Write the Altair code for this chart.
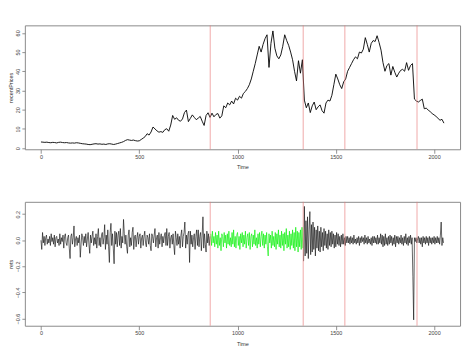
import altair as alt
import pandas as pd

# ---- data ----
price_step = 10
prices = [
    3.2, 3.1, 3.0, 3.1, 2.9, 2.8, 3.0, 2.9, 2.7, 3.0,
    3.1, 2.9, 2.8, 2.9, 2.7, 2.6, 2.7, 2.6, 2.8, 2.7,
    2.5, 2.3, 2.2, 2.1, 1.9, 1.8, 2.0, 2.2, 2.3, 2.1,
    2.2, 2.0, 2.1, 1.9, 2.2, 2.3, 2.1, 1.9, 2.1, 2.4,
    2.7,
    3.0, 3.4, 4.0, 4.4, 4.2, 4.0, 4.2, 3.9, 3.7, 3.8,
    4.5, 5.2, 6.0, 7.5, 6.8, 8.4, 11.0, 10.0, 9.0, 8.3,
    8.6, 8.2, 9.6, 10.1, 8.8, 12.0, 17.0, 15.0, 15.8, 14.5,
    14.0, 15.2, 18.5, 19.8, 13.8, 15.5, 17.3, 16.0, 14.8, 15.6,
    16.5, 14.0, 11.8, 17.0, 18.4, 16.0, 18.2, 16.3, 17.5, 18.0,
    15.6, 16.8, 22.0, 21.0, 23.5, 22.5, 24.5, 23.0, 26.0, 25.0,
    27.0, 26.0, 28.5, 29.5, 31.0, 33.0, 36.0, 40.0, 44.0, 48.5,
    53.0, 50.0, 54.0, 57.0, 59.0, 42.0, 54.5, 61.0, 52.0, 48.0,
    46.5, 48.5, 53.0, 59.0, 56.0, 53.5, 50.0, 46.0, 40.0, 35.0,
    45.5, 39.0, 46.0, 25.0, 21.0, 23.5, 18.5, 22.0, 24.0, 20.0,
    21.5, 22.5, 19.5, 18.2, 23.5, 25.0, 24.5, 27.5, 33.0, 38.5,
    36.0, 33.0, 31.0, 34.5, 36.0, 40.0, 42.0, 44.0, 46.0, 47.5,
    46.5, 50.0, 49.5, 51.5, 57.5, 54.0, 50.0, 54.5, 56.0, 55.5,
    58.5, 55.0, 51.0, 44.5, 40.0, 43.0, 44.0, 38.0, 42.5, 39.5,
    37.0, 39.0, 40.5, 41.0, 40.0, 44.5, 40.5, 43.0, 44.0, 25.5,
    24.5, 24.0, 24.8, 25.5, 20.5, 20.8, 19.8, 19.0, 18.0, 17.3,
    16.5, 15.5, 14.5, 15.0, 13.0,
]

ret_step = 4
rets_early = [
    0.00, -0.07, 0.06, -0.02, 0.03, -0.04, 0.02, 0.04, -0.03, 0.01,
    -0.02, 0.03, -0.04, 0.05, -0.01, 0.02, -0.03, 0.04, -0.05, 0.02,
    0.03, -0.02, 0.01, -0.04, 0.05, -0.03, 0.02, -0.01, 0.04, -0.06,
    0.03, 0.05, -0.02, -0.04, 0.02, 0.04, -0.06, -0.14, 0.03, 0.05,
    -0.03, 0.02, 0.11, -0.05, 0.01, 0.03, -0.04, 0.02, -0.02, 0.04,
    -0.13, -0.03, 0.05, 0.02, -0.04, 0.03, -0.02, 0.05, -0.05, 0.01,
    0.06, -0.03, -0.10, 0.04, -0.02, 0.03, 0.07, -0.04, 0.02, -0.03,
    0.05, -0.06, 0.03, 0.09, -0.04, 0.02, -0.05, 0.04, 0.06, -0.03,
    0.02, 0.12, -0.07, 0.04, -0.03, 0.08, -0.05, -0.17, 0.06, 0.13,
    -0.04, 0.05, -0.06, -0.18, 0.07, -0.03, 0.06, -0.05, 0.04, 0.07,
    -0.04, 0.09, -0.06, 0.03, -0.02, 0.16, 0.05, -0.03, 0.04, -0.05,
    -0.10, 0.04, 0.08, -0.05, 0.02, -0.04, 0.06, 0.10, -0.07, 0.03,
    0.04, -0.05, 0.02, 0.06, -0.03, 0.03, 0.05, -0.06, 0.02, 0.04,
    -0.04, 0.03, 0.07, -0.02, -0.05, 0.04, 0.02, -0.03, 0.05, -0.04,
    -0.08, 0.05, 0.03, -0.02, 0.04, 0.09, -0.05, 0.02, 0.04, -0.06,
    0.06, -0.03, 0.02, 0.05, -0.05, 0.03, -0.02, 0.04, 0.06, -0.04,
    0.09, -0.04, 0.03, 0.06, -0.06, 0.02, 0.04, -0.03, 0.05, -0.04,
    -0.11, 0.07, 0.02, -0.04, 0.05, -0.03, 0.03, -0.06, 0.04, 0.08,
    -0.05, 0.03, 0.06, 0.14, -0.06, 0.04, -0.03, 0.05, 0.07, -0.17,
    0.07, -0.03, 0.04, -0.05, 0.02, 0.05, -0.07, 0.03, 0.08, -0.04,
    0.08, -0.05, 0.03, 0.06, -0.08, 0.04, 0.18, -0.06, 0.05, -0.03,
    -0.09, 0.07, -0.02, 0.05, -0.04, 0.03,
]
rets_green = [
    0.05, -0.04, 0.07, -0.02, 0.03, -0.05, 0.06, -0.03, 0.04, -0.06,
    0.07, -0.04, 0.02, -0.08, 0.05, 0.03, -0.05, 0.06, -0.02, 0.04,
    -0.06, 0.05, -0.03, 0.07, -0.04, 0.02, -0.05, 0.06, -0.03, 0.08,
    -0.05, 0.03, -0.06, 0.04, 0.06, -0.04, 0.03, -0.07, 0.05, -0.02,
    0.06, -0.05, 0.04, -0.03, 0.07, -0.06, 0.02, 0.05, -0.04, 0.06,
    -0.07, 0.03, 0.05, -0.05, 0.04, -0.03, 0.08, -0.04, 0.02, -0.06,
    0.05, -0.03, 0.06, -0.05, 0.03, 0.07, -0.04, 0.05, -0.06, 0.04,
    -0.03, 0.06, -0.05, -0.12, 0.05, -0.02, 0.04, -0.06, 0.07, -0.04,
    0.03, -0.05, 0.06, -0.07, 0.05, -0.03, 0.08, -0.05, 0.04, -0.06,
    0.07, -0.04, 0.05, -0.08, 0.06, -0.03, 0.09, -0.06, 0.04, -0.05,
    0.07, -0.07, 0.05, -0.04, 0.08, -0.06, 0.06, -0.08, 0.10, -0.05,
    0.07, -0.09, 0.06, -0.05, 0.08, -0.07, 0.10, -0.06,
]
rets_late = [
    -0.16, 0.26, -0.12, 0.15, -0.10, 0.18, -0.14, 0.08, 0.22, -0.11,
    0.12, -0.09, 0.14, -0.07, 0.10, -0.12, 0.08, -0.06, 0.11, -0.08,
    0.07, -0.09, 0.10, -0.05, 0.06, -0.08, 0.09, -0.04, 0.07, -0.06,
    0.05, -0.07, 0.08, -0.04, 0.06, -0.05, 0.07, -0.03, 0.05, -0.06,
    0.04, -0.05, 0.06, -0.03, 0.05, -0.04, 0.03, -0.05, 0.04, -0.03,
    0.05, -0.03, 0.02, -0.04, 0.03, -0.02, 0.03, -0.02, 0.02, -0.03,
    0.03, -0.02, 0.02, -0.03, 0.04, -0.02, 0.01, -0.03, 0.02, -0.02,
    0.03, -0.04, 0.02, -0.02, 0.03, -0.01, 0.02, -0.03, 0.04, -0.02,
    0.02, -0.03, 0.03, -0.02, 0.01, -0.03, 0.02, -0.04, 0.03, -0.02,
    0.03, -0.02, 0.02, -0.03, 0.04, -0.03, 0.02, -0.02, 0.05, -0.03,
    0.04, -0.05, 0.03, -0.04, 0.05, -0.03, 0.02, -0.04, 0.03, -0.03,
    0.04, -0.02, 0.03, -0.04, 0.02, -0.03, 0.04, -0.05, 0.03, -0.02,
    0.03, -0.03, 0.02, -0.02, 0.04, -0.03, 0.02, -0.04, 0.03, -0.02,
    0.05, -0.03, 0.02, -0.04, 0.03, -0.02, 0.04, -0.03, 0.02, -0.28,
    -0.61, 0.02, -0.01, 0.02, -0.02, 0.01, 0.03, -0.02, 0.02, -0.03,
    0.02, -0.05, 0.03, -0.02, 0.02, -0.03, 0.03, -0.02, 0.02, -0.04,
    0.03, -0.02, 0.02, -0.03, 0.02, -0.02, 0.03, -0.03, 0.02, -0.02,
    0.03, -0.02, 0.02, -0.03, 0.04, 0.14, -0.04, 0.02, -0.02,
]
rets = rets_early + rets_green + rets_late
# segment of each return: 0 = before, 1 = green window, 2 = after
ret_segment = [0] * len(rets_early) + [1] * len(rets_green) + [2] * len(rets_late)

breaks = [861, 1334, 1546, 1913]

x_ticks = [0, 500, 1000, 1500, 2000]
price_ticks = [0, 10, 20, 30, 40, 50, 60]
ret_ticks = [-0.6, -0.4, -0.2, 0.0, 0.2]

# ---- tables ----
price_df = pd.DataFrame({"Time": [i * price_step for i in range(len(prices))],
                         "recentPrices": prices})
ret_df = pd.DataFrame({"Time": [i * ret_step for i in range(len(rets))],
                       "rets": rets, "seg": ret_segment})
break_df = pd.DataFrame({"Time": breaks})

FONT = "Liberation Sans"
xscale = alt.Scale(domain=[-82, 2132], nice=False, zero=False)


def xaxis():
    return alt.Axis(values=x_ticks, title="Time", grid=False, domain=False,
                    tickSize=4, labelPadding=1, titlePadding=5, format="d",
                    labelOverlap=False)


def yaxis(title, ticks, fmt):
    return alt.Axis(values=ticks, title=title, grid=False, domain=False,
                    tickSize=3, labelPadding=1, titlePadding=2, format=fmt,
                    labelAngle=270, labelAlign="center", labelBaseline="bottom",
                    labelOverlap=False, labelFlush=False)


rules = alt.Chart(break_df).mark_rule(color="#e87878", strokeWidth=0.8, opacity=0.8).encode(
    x=alt.X("Time:Q", scale=xscale))

top = alt.layer(
    alt.Chart(price_df).mark_line(color="black", strokeWidth=0.9).encode(
        x=alt.X("Time:Q", scale=xscale, axis=xaxis()),
        y=alt.Y("recentPrices:Q", scale=alt.Scale(domain=[-0.6, 63.9], nice=False, zero=False),
                axis=yaxis("recentPrices", price_ticks, "d")),
    ),
    rules,
).properties(width=439, height=125)

ret_layer = alt.Chart(ret_df).mark_line(strokeWidth=0.65).encode(
    x=alt.X("Time:Q", scale=xscale, axis=xaxis()),
    y=alt.Y("rets:Q", scale=alt.Scale(domain=[-0.655, 0.295], nice=False, zero=False),
            axis=yaxis("rets", ret_ticks, ".1f")),
    color=alt.Color("seg:N", scale=alt.Scale(domain=[0, 1, 2], range=["#111111", "#00f000", "#111111"]),
                    legend=None),
    detail="seg:N",
)
bottom = alt.layer(ret_layer, rules).properties(width=439, height=125)

chart = alt.vconcat(top, bottom, spacing=53, bounds="flush").properties(
    padding={"left": 0, "top": 15, "right": 5, "bottom": 5}
).configure_view(
    stroke="#8a8a8a", strokeWidth=1
).configure_axis(
    labelFont=FONT, titleFont=FONT, labelFontSize=5.5, titleFontSize=5.5,
    labelColor="#444444", titleColor="#333333", tickColor="#777777", tickWidth=0.8,
    titleFontWeight="normal", labelOverlap=False
)

chart.save("out.html", embed_options={"renderer": "svg", "actions": False})
